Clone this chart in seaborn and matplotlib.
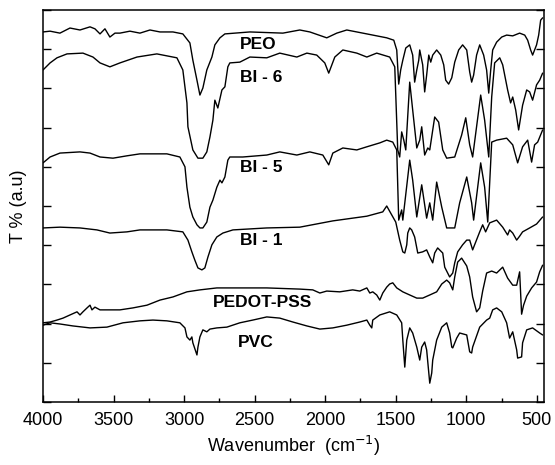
import matplotlib
matplotlib.use("Agg")
import matplotlib.pyplot as plt
from matplotlib.ticker import MultipleLocator, NullFormatter
import pandas as pd
import seaborn as sns

# FTIR spectra, wavenumber (cm-1) and transmittance (a.u., stacked offsets)
peo_wn = [4000, 3950, 3880, 3809, 3738, 3667, 3632, 3596, 3561, 3526, 3490, 3455, 3384, 3313,
          3242, 3171, 3079, 3009, 2959, 2938, 2909, 2888, 2867, 2839, 2803, 2782, 2746, 2711,
          2534, 2300, 2180, 2109, 1989, 1918, 1847, 1705, 1564, 1514, 1493, 1479, 1465, 1450,
          1429, 1401, 1380, 1366, 1351, 1337, 1330, 1309, 1295, 1281, 1266, 1252, 1238, 1210,
          1181, 1160, 1146, 1125, 1103, 1082, 1054, 1026, 997, 976, 962, 948, 927, 905, 877,
          856, 841, 827, 813, 785, 749, 714, 671, 622, 586, 565, 544, 530, 516, 502, 487, 473, 459]
peo_t = [94.4, 94.6, 94.1, 95.4, 94.9, 95.7, 95.2, 93.9, 95.2, 93.1, 94.1, 94.1, 94.6, 94.1,
         94.9, 94.4, 94.4, 93.9, 91.6, 87.2, 82.1, 78.3, 80.1, 84.7, 88.0, 91.1, 92.9, 93.9,
         94.4, 94.1, 94.9, 94.4, 92.9, 94.1, 94.9, 93.9, 92.9, 92.3, 89.8, 81.1, 84.7, 87.2,
         90.3, 91.1, 88.5, 81.6, 84.7, 87.2, 89.8, 86.0, 79.1, 83.4, 88.5, 86.7, 88.5, 89.8,
         88.5, 86.0, 82.1, 81.1, 82.7, 86.7, 89.8, 91.1, 89.8, 84.2, 81.6, 83.4, 88.5, 91.1, 88.5,
         84.7, 78.8, 84.7, 89.8, 91.8, 93.1, 93.6, 93.4, 94.1, 93.6, 92.3, 89.8, 88.5, 89.8, 91.1, 93.6, 97.4, 98.0]

bi6_wn = [4000, 3950, 3901, 3830, 3717, 3646, 3596, 3526, 3455, 3334, 3193, 3051, 3009, 2980,
          2973, 2938, 2902, 2867, 2839, 2817, 2796, 2782, 2761, 2732, 2711, 2690, 2676, 2605,
          2534, 2414, 2322, 2201, 2130, 2060, 2003, 1975, 1932, 1875, 1776, 1705, 1635, 1543,
          1507, 1486, 1472, 1458, 1443, 1429, 1401, 1380, 1351, 1330, 1316, 1295, 1273, 1259,
          1224, 1196, 1167, 1139, 1082, 1033, 1004, 976, 955, 898, 870, 841, 820, 799, 763,
          742, 707, 686, 671, 650, 629, 601, 572, 551, 530, 502, 480, 459]
bi6_t = [84.7, 86.5, 87.8, 88.8, 89.0, 88.0, 86.5, 85.5, 86.5, 88.0, 88.8, 87.8, 84.7, 76.3,
         70.2, 64.3, 62.2, 62.2, 63.8, 67.6, 71.9, 77.0, 75.0, 79.6, 80.4, 85.5, 86.5, 86.7,
         88.0, 87.8, 89.0, 88.0, 89.0, 88.5, 86.5, 83.9, 88.0, 89.8, 89.0, 88.0, 89.0, 88.0,
         85.5, 64.3, 62.5, 68.9, 66.8, 64.3, 81.6, 74.5, 64.8, 66.8, 70.2, 63.0, 64.8, 64.3,
         72.7, 71.4, 64.3, 62.2, 62.5, 68.1, 72.5, 65.6, 62.5, 78.3, 71.9, 62.5, 77.8, 86.5, 87.8,
         86.0, 79.6, 76.3, 77.8, 74.5, 69.4, 75.7, 79.6, 79.1, 77.0, 80.9, 82.1, 83.9]

bi5_wn = [4000, 3950, 3880, 3738, 3667, 3596, 3504, 3405, 3313, 3122, 3030, 2994, 2980, 2959,
          2938, 2909, 2888, 2867, 2839, 2817, 2796, 2768, 2746, 2732, 2711, 2690, 2676, 2584,
          2414, 2322, 2201, 2109, 2017, 1975, 1946, 1875, 1776, 1705, 1613, 1564, 1521, 1493,
          1479, 1458, 1450, 1401, 1380, 1351, 1316, 1281, 1259, 1238, 1210, 1174, 1139, 1082,
          1047, 997, 962, 948, 898, 870, 848, 820, 785, 714, 671, 636, 601, 565, 537, 516, 494, 459]
bi5_t = [61.0, 62.5, 63.5, 63.8, 63.5, 62.5, 62.2, 62.8, 63.3, 63.3, 62.5, 60.0, 54.8, 49.7,
         47.2, 45.2, 44.4, 44.4, 45.9, 49.7, 51.5, 54.8, 56.6, 55.9, 57.4, 61.7, 62.5, 62.5,
         63.0, 63.8, 63.0, 63.8, 63.0, 60.5, 63.5, 64.8, 64.3, 65.1, 66.1, 66.8, 66.3, 64.3,
         46.4, 49.0, 46.4, 61.7, 56.6, 47.2, 55.4, 46.9, 50.8, 46.4, 56.1, 49.7, 44.4, 44.4,
         50.8, 57.4, 50.8, 46.4, 61.0, 54.8, 45.9, 66.3, 66.8, 67.3, 65.6, 61.0, 65.1, 66.8, 61.2, 65.6, 66.3, 69.4]

bi1_wn = [4000, 3880, 3738, 3618, 3526, 3405, 3313, 3122, 3009, 2973, 2945, 2924, 2902, 2874,
          2853, 2831, 2803, 2768, 2725, 2654, 2414, 2180, 1946, 1705, 1592, 1564, 1536, 1500,
          1472, 1450, 1436, 1422, 1415, 1401, 1387, 1366, 1344, 1309, 1281, 1259, 1238, 1224,
          1203, 1167, 1153, 1118, 1096, 1082, 1061, 1026, 997, 976, 955, 941, 905, 884, 863,
          834, 785, 742, 707, 693, 671, 643, 622, 601, 551, 502, 459]
bi1_t = [44.4, 44.6, 44.4, 43.9, 43.1, 43.4, 43.9, 43.9, 43.4, 41.3, 38.3, 36.2, 34.2, 33.7,
         34.2, 37.0, 40.1, 42.1, 43.1, 43.9, 44.4, 44.6, 46.2, 47.4, 48.5, 50.0, 48.2, 45.9,
         41.3, 38.3, 38.0, 40.1, 43.1, 44.4, 43.9, 42.1, 38.0, 38.3, 38.8, 37.0, 35.5, 38.0,
         39.3, 38.0, 34.4, 31.9, 32.9, 35.5, 38.3, 40.1, 41.3, 41.3, 38.8, 40.1, 43.4, 45.2, 43.4,
         45.7, 46.4, 44.6, 42.6, 43.9, 43.1, 41.3, 42.3, 43.4, 44.4, 45.4, 47.2]

pedot_wn = [4000, 3950, 3901, 3858, 3809, 3759, 3738, 3717, 3688, 3667, 3653, 3632, 3596, 3547,
            3455, 3363, 3263, 3171, 3079, 2980, 2888, 2768, 2654, 2414, 2180, 2088, 2038, 1989,
            1897, 1805, 1755, 1705, 1684, 1663, 1635, 1613, 1592, 1564, 1543, 1521, 1493, 1450,
            1401, 1351, 1309, 1259, 1210, 1174, 1139, 1118, 1096, 1082, 1061, 1033, 997, 976,
            955, 927, 905, 884, 856, 820, 785, 742, 707, 671, 643, 622, 608, 594, 572, 537, 502, 480, 459]
pedot_t = [20.2, 20.4, 20.9, 21.4, 22.2, 23.0, 22.2, 23.0, 24.0, 24.7, 23.5, 24.2, 23.5, 23.5,
           23.5, 24.0, 24.7, 26.0, 26.8, 28.1, 28.6, 29.1, 29.1, 29.1, 28.8, 28.6, 27.8, 28.3,
           28.1, 28.6, 28.3, 29.1, 27.8, 28.1, 27.3, 26.0, 27.8, 29.3, 30.1, 30.4, 29.1, 28.1,
           27.3, 26.5, 26.5, 27.3, 28.1, 30.1, 31.1, 30.4, 28.6, 31.9, 35.7, 36.7, 34.7, 31.9,
           26.8, 23.0, 24.0, 28.3, 32.9, 33.4, 32.9, 34.4, 31.6, 29.8, 29.8, 33.2, 22.4, 24.7, 27.0, 29.1, 30.6, 33.2, 34.9]

pvc_wn = [4000, 3950, 3880, 3788, 3667, 3547, 3433, 3313, 3221, 3122, 3030, 2994, 2980, 2959,
          2945, 2938, 2909, 2902, 2888, 2867, 2839, 2817, 2768, 2697, 2605, 2513, 2414, 2322,
          2229, 2130, 2038, 1946, 1847, 1755, 1705, 1684, 1670, 1663, 1613, 1543, 1493, 1458,
          1450, 1436, 1422, 1401, 1380, 1351, 1330, 1316, 1295, 1281, 1259, 1245, 1238, 1210,
          1174, 1139, 1118, 1103, 1096, 1068, 1047, 997, 976, 962, 955, 905, 856, 834, 813,
          785, 749, 714, 693, 671, 643, 636, 608, 601, 572, 530, 480, 459]
pvc_t = [19.6, 20.2, 19.9, 19.4, 18.9, 19.1, 20.2, 20.7, 20.9, 20.7, 20.2, 18.9, 16.6, 15.8,
         16.6, 15.1, 12.0, 14.0, 16.6, 18.4, 17.9, 18.6, 18.9, 19.1, 20.2, 20.9, 21.7, 21.4,
         20.4, 19.4, 18.6, 18.9, 19.6, 20.4, 20.9, 19.6, 18.9, 20.9, 22.2, 23.0, 22.2, 20.2,
         15.8, 8.9, 15.8, 18.9, 17.6, 14.0, 10.7, 14.0, 15.3, 13.3, 4.8, 7.4, 10.7, 15.8,
         19.1, 20.2, 17.6, 14.0, 13.8, 16.3, 17.6, 17.1, 12.8, 12.5, 14.0, 19.1, 20.9, 21.4, 23.5,
         24.0, 23.0, 20.2, 16.3, 17.9, 13.3, 11.2, 11.5, 15.1, 18.4, 18.9, 17.6, 17.1]

spectra = [("PEO", peo_wn, peo_t), ("BI - 6", bi6_wn, bi6_t), ("BI - 5", bi5_wn, bi5_t),
           ("BI - 1", bi1_wn, bi1_t), ("PEDOT-PSS", pedot_wn, pedot_t), ("PVC", pvc_wn, pvc_t)]

# label anchor (wavenumber, transmittance)
label_wn = [2605, 2605, 2605, 2605, 2796, 2619]
label_t = [91.3, 82.9, 59.9, 41.3, 25.5, 15.3]

sns.set_style("ticks")
plt.rcParams["font.family"] = ["Liberation Sans", "DejaVu Sans"]
for key in ["text.color", "axes.labelcolor", "xtick.color", "ytick.color", "axes.edgecolor"]:
    plt.rcParams[key] = "black"

fig = plt.figure(figsize=(5.55, 4.65), dpi=100)
ax = fig.add_axes([0.0775, 0.1355, 0.9025, 0.843])

for name, wn, t in spectra:
    df = pd.DataFrame({"wn": wn, "t": t})
    sns.lineplot(data=df, x="wn", y="t", sort=False, estimator=None, color="black",
                 linewidth=1.0, ax=ax)

for (name, _, _), x, y in zip(spectra, label_wn, label_t):
    ax.text(x, y, name, fontsize=12.5, fontweight="bold", ha="left", va="center")

ax.set_xlim(4000, 450)
ax.set_ylim(0, 100)
ax.xaxis.set_major_locator(MultipleLocator(500))
ax.xaxis.set_minor_locator(MultipleLocator(250))
ax.yaxis.set_major_locator(MultipleLocator(10))
ax.yaxis.set_major_formatter(NullFormatter())
ax.tick_params(axis="x", which="major", direction="in", length=5, width=1, labelsize=13, pad=7)
ax.tick_params(axis="x", which="minor", direction="in", length=3, width=1)
ax.tick_params(axis="y", which="major", direction="in", length=6, width=1, right=True)
for s in ax.spines.values():
    s.set_linewidth(1.1)
    s.set_visible(True)

ax.set_xlabel("Wavenumber  (cm$^{-1}$)", fontsize=13, labelpad=4)
ax.set_ylabel("T % (a.u)", fontsize=13, labelpad=8)

fig.savefig("out.png", dpi=100)
